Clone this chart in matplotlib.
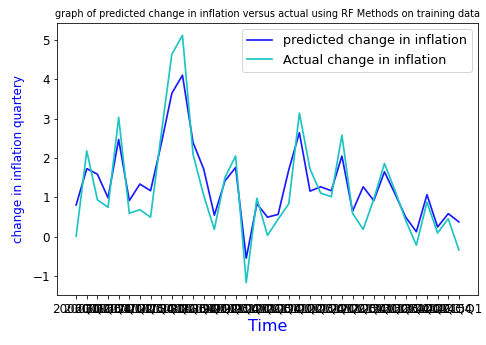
import numpy as np
import matplotlib
matplotlib.use("Agg")
import matplotlib.pyplot as plt

# quarterly labels (training period)
quarters = ["%dQ%d" % (2006 + k // 4, (k % 4) + 1) for k in range(37)]

predicted = [0.81, 1.73, 1.59, 0.99, 2.47, 0.92, 1.34, 1.17, 2.35, 3.64,
             4.10, 2.39, 1.72, 0.55, 1.42, 1.76, -0.54, 0.84, 0.50, 0.57,
             1.70, 2.64, 1.16, 1.27, 1.17, 2.05, 0.65, 1.27, 0.92, 1.65,
             1.09, 0.50, 0.13, 1.07, 0.25, 0.59, 0.38]

actual = [0.02, 2.18, 0.94, 0.75, 3.03, 0.60, 0.69, 0.50, 2.60, 4.63,
          5.11, 2.09, 1.05, 0.19, 1.51, 2.05, -1.16, 0.98, 0.04, 0.45,
          0.84, 3.14, 1.72, 1.11, 1.02, 2.58, 0.60, 0.19, 0.96, 1.86,
          1.17, 0.42, -0.21, 0.88, 0.10, 0.46, -0.33]

fig = plt.figure(figsize=(486 / 72, 345 / 72), dpi=72)
ax = fig.add_axes([57 / 486, 1 - 295 / 345, 421 / 486, 272 / 345])

ax.plot(quarters, predicted, color='#1a1aff', lw=1.7, label='predicted change in inflation')
ax.plot(quarters, actual, color='#1cc4c4', lw=1.7, label='Actual change in inflation')

ax.set_title("graph of predicted change in inflation versus actual using RF Methods on training data",
             fontsize=9.8)
ax.set_xlabel("Time", color='blue', fontsize=16)
ax.set_ylabel("change in inflation quartery", color='blue', fontsize=12, labelpad=7)
ax.tick_params(labelsize=12)
ax.legend(loc='upper right', fontsize=12.7)

fig.savefig("out.png", dpi=72)
